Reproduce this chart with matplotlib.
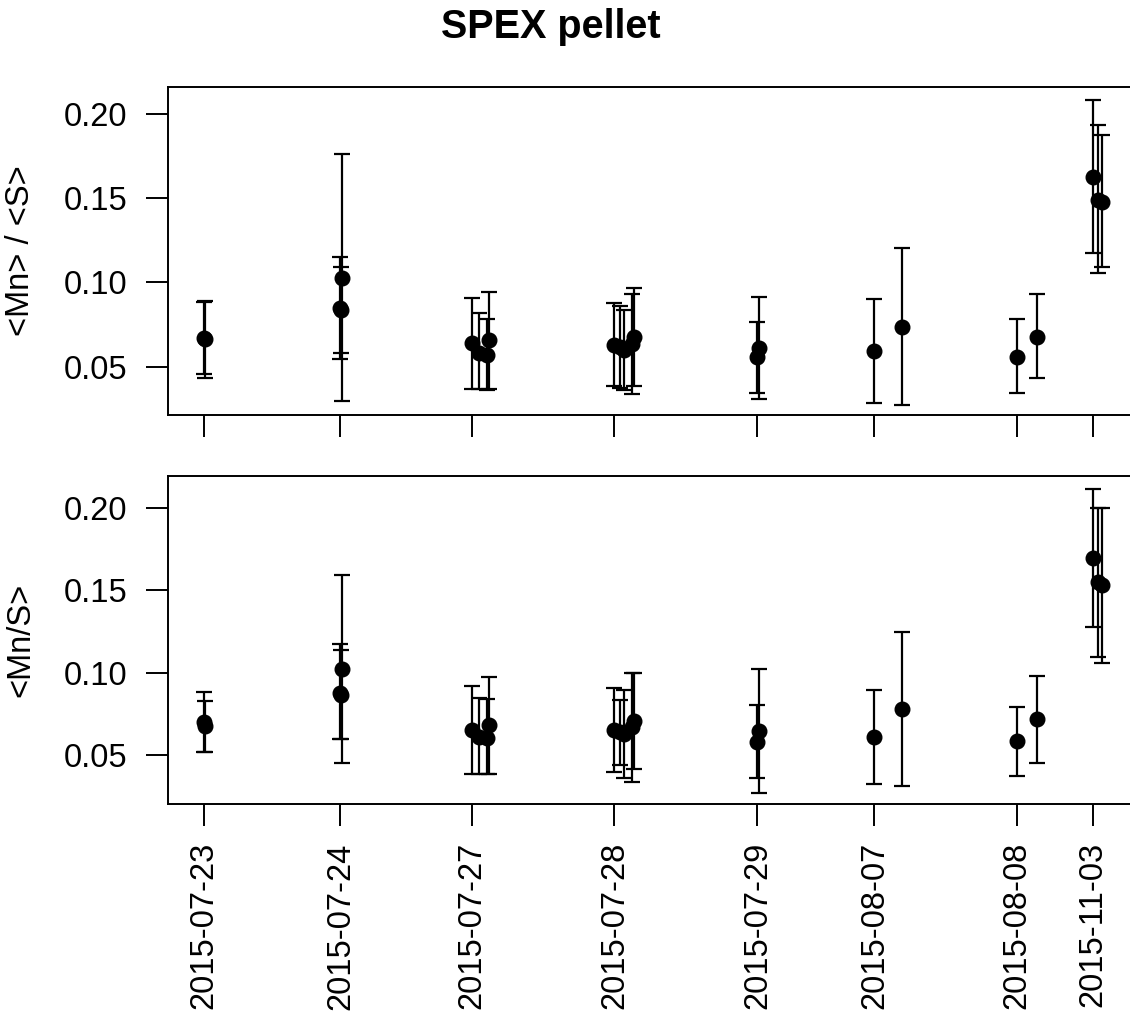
import matplotlib
matplotlib.use('Agg')
import matplotlib.pyplot as plt
import numpy as np

plt.rcParams['font.family'] = ['Liberation Sans', 'DejaVu Sans']

# position of each measurement along the x axis (run units) and its date
pos = [0.0, 0.05,
       13.63, 13.70, 13.83,
       26.8, 27.5, 28.27, 28.53,
       41.03, 41.6, 42.0, 42.83, 43.0,
       55.33, 55.53,
       67.03, 69.77,
       81.27, 83.33,
       88.87, 89.37, 89.77]
dates = (['2015-07-23'] * 2 + ['2015-07-24'] * 3 + ['2015-07-27'] * 4 +
         ['2015-07-28'] * 5 + ['2015-07-29'] * 2 + ['2015-08-07'] * 2 +
         ['2015-08-08'] * 2 + ['2015-11-03'] * 3)

# <Mn> / <S>
rm = [0.0671, 0.0663, 0.0846, 0.0837, 0.1028, 0.0642, 0.0579, 0.0567, 0.0658,
      0.0629, 0.0619, 0.0599, 0.0633, 0.0678, 0.0559, 0.0609, 0.0593, 0.0738,
      0.0560, 0.0678, 0.1626, 0.1490, 0.1478]
rm_lo = [0.0457, 0.0435, 0.0546, 0.0583, 0.0297, 0.0370, 0.0365, 0.0362, 0.0365,
         0.0386, 0.0372, 0.0362, 0.0336, 0.0386, 0.0346, 0.0307, 0.0283, 0.0273,
         0.0346, 0.0431, 0.1176, 0.1054, 0.1089]
rm_hi = [0.0886, 0.0890, 0.1152, 0.1091, 0.1761, 0.0906, 0.0817, 0.0781, 0.0943,
         0.0880, 0.0860, 0.0836, 0.0929, 0.0965, 0.0767, 0.0915, 0.0902, 0.1202,
         0.0781, 0.0929, 0.2081, 0.1937, 0.1874]

# <Mn/S>
mr = [0.0703, 0.0675, 0.0875, 0.0867, 0.1021, 0.0652, 0.0611, 0.0601, 0.0682,
      0.0652, 0.0637, 0.0627, 0.0667, 0.0707, 0.0581, 0.0646, 0.0609, 0.0780,
      0.0587, 0.0717, 0.1696, 0.1549, 0.1531]
mr_lo = [0.0520, 0.0520, 0.0595, 0.0595, 0.0450, 0.0384, 0.0384, 0.0384, 0.0384,
         0.0399, 0.0439, 0.0358, 0.0334, 0.0413, 0.0358, 0.0271, 0.0322, 0.0311,
         0.0372, 0.0450, 0.1280, 0.1098, 0.1061]
mr_hi = [0.0885, 0.0830, 0.1175, 0.1138, 0.1594, 0.0920, 0.0845, 0.0842, 0.0972,
         0.0905, 0.0834, 0.0895, 0.1000, 0.1000, 0.0804, 0.1021, 0.0895, 0.1250,
         0.0790, 0.0982, 0.2115, 0.2000, 0.2000]

yticks = [0.05, 0.10, 0.15, 0.20]

x = np.array(pos)
# one tick at the first measurement of each date
tick_labels = []
tick_pos = []
for d, p in zip(dates, pos):
    if d not in tick_labels:
        tick_labels.append(d)
        tick_pos.append(p)

rng = x.max() - x.min()
xlim = (x.min() - 0.04 * rng, x.max() + 0.04 * rng)

fig = plt.figure(figsize=(11.3, 10.16), dpi=100)
ax1 = fig.add_axes([0.1489, 0.5915, 0.8579, 0.3231])
ax2 = fig.add_axes([0.1489, 0.2087, 0.8579, 0.3228])

panels = [(ax1, rm, rm_lo, rm_hi, '<Mn> / <S>', (0.0213, 0.2161)),
          (ax2, mr, mr_lo, mr_hi, '<Mn/S>', (0.0202, 0.2196))]

for ax, y, lo, hi, lab, ylim in panels:
    y = np.array(y)
    err = [y - np.array(lo), np.array(hi) - y]
    ax.errorbar(x, y, yerr=err, fmt='o', color='black', ms=10.5,
                elinewidth=1.6, capsize=5.8, capthick=1.6)
    ax.set_xlim(*xlim)
    ax.set_ylim(*ylim)
    ax.set_yticks(yticks)
    ax.set_yticklabels(['%.2f' % t for t in yticks])
    ax.set_xticks(tick_pos)
    ax.tick_params(axis='both', direction='out', length=15.5, width=1.4,
                   labelsize=23.5, pad=14, colors='black')
    for s in ax.spines.values():
        s.set_linewidth(1.4)
    ax.set_ylabel(lab, fontsize=23.5, va='center')
    ax.yaxis.set_label_coords(-0.152, 0.5)

ax1.set_xticklabels([])
ax2.set_xticklabels(tick_labels, rotation=90, va='top', ha='center')
ax2.tick_params(axis='x', pad=12)

fig.text(0.4876, 1 - 38.5 / 1016, 'SPEX pellet', ha='center', va='baseline',
         fontsize=28.5, fontweight='bold')

fig.savefig('out.png', dpi=100)
